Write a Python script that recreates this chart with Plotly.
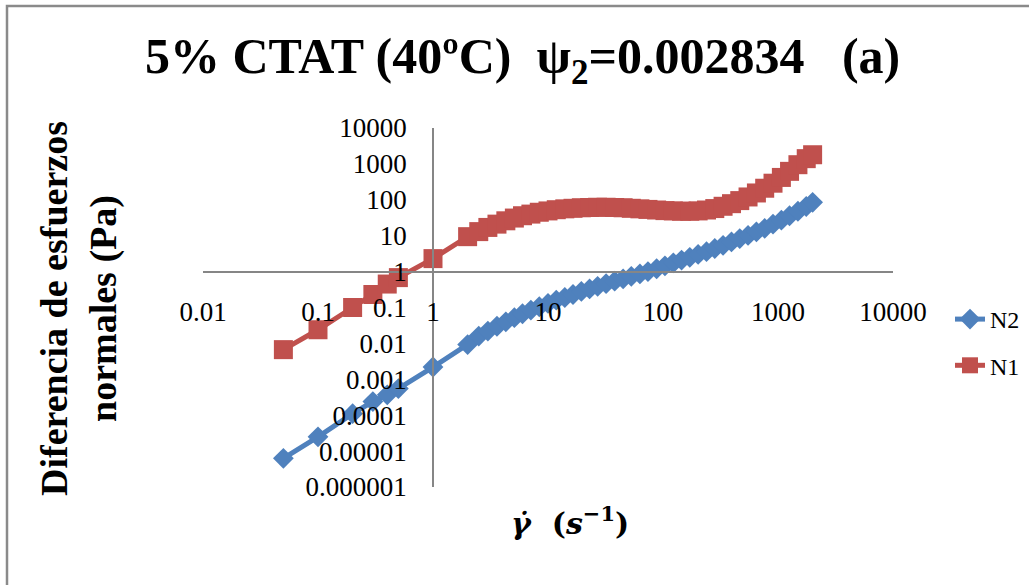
import plotly.graph_objects as go

# ---- data ----
shear_rate = [0.05, 0.1, 0.2, 0.3, 0.4, 0.5, 1, 2, 2.5, 3, 3.6, 4.3, 5.1, 6, 7.1, 8.4,
              10, 11.8, 14, 16.5, 19.5, 23, 27, 32, 38, 45, 53, 63, 74, 88, 104, 123,
              145, 171, 202, 239, 282, 333, 394, 465, 549, 649, 766, 905, 1070, 1260,
              1490, 1760, 2000]

n2 = [6.3e-6, 2.5e-5, 1.1e-4, 2.4e-4, 3.7e-4, 5.5e-4, 2.2e-3, 0.0093, 0.016, 0.022,
      0.03, 0.04, 0.052, 0.067, 0.085, 0.105, 0.13, 0.16, 0.19, 0.23, 0.28, 0.33,
      0.39, 0.46, 0.54, 0.63, 0.74, 0.86, 1.0, 1.2, 1.45, 1.75, 2.1, 2.5, 3.0, 3.6,
      4.4, 5.4, 6.7, 8.3, 10.2, 12.8, 16, 21, 27, 36, 48, 65, 85]

n1 = [0.0067, 0.024, 0.1, 0.23, 0.45, 0.68, 2.3, 9.4, 13, 17, 21, 26, 31, 36, 40, 45,
      49, 53, 56, 58, 60, 61, 62, 62, 61, 60, 58, 56, 54, 52, 50, 49, 48, 48, 49, 52,
      57, 66, 78, 95, 120, 155, 210, 290, 420, 620, 950, 1400, 1800]

x_tickvals = [0.01, 0.1, 1, 10, 100, 1000, 10000]
x_ticktext = ["0.01", "0.1", "1", "10", "100", "1000", "10000"]
y_tickvals = [1e-6, 1e-5, 1e-4, 1e-3, 1e-2, 1e-1, 1, 10, 100, 1000, 10000]
y_ticktext = ["0.000001", "0.00001", "0.0001", "0.001", "0.01", "0.1", "1", "10",
              "100", "1000", "10000"]

BLUE = "#4F81BD"
RED = "#C0504D"
AXIS = "#868686"
FONT = "Liberation Serif"

fig = go.Figure()
fig.add_trace(go.Scatter(x=shear_rate, y=n2, name="N2", mode="lines+markers",
                         line=dict(color=BLUE, width=5),
                         marker=dict(symbol="diamond", size=16, color=BLUE),
                         legendgroup="a"))
fig.add_trace(go.Scatter(x=shear_rate, y=n1, name="N1", mode="lines+markers",
                         line=dict(color=RED, width=5),
                         marker=dict(symbol="square", size=19, color=RED),
                         legendgroup="b"))

W, H = 1029, 585
L, R, T, B = 203, 136, 128, 98
pw, ph = W - L - R, H - T - B

def px_x(p):
    return (p - L) / pw

def px_y(p):
    return (H - B - p) / ph

fig.update_layout(
    width=W, height=H,
    margin=dict(l=L, r=R, t=T, b=B, autoexpand=False),
    paper_bgcolor="white", plot_bgcolor="white",
    font=dict(family=FONT, color="black"),
    showlegend=True,
    legend=dict(x=px_x(950), y=px_y(297), xanchor="left", yanchor="top",
                font=dict(family=FONT, size=24, color="black"),
                tracegroupgap=12, bgcolor="rgba(0,0,0,0)"),
    xaxis=dict(type="log", range=[-2, 4], domain=[0, 1], anchor="free", position=0.6,
               showgrid=False, zeroline=False, showline=True, linecolor=AXIS, linewidth=1.5,
               ticks="", tickvals=x_tickvals, ticktext=x_ticktext,
               tickfont=dict(family=FONT, size=27, color="black"),
               ticklabelstandoff=16),
    yaxis=dict(type="log", range=[-6, 4], domain=[0, 1], anchor="free", position=1/3,
               showgrid=False, zeroline=False, showline=True, linecolor=AXIS, linewidth=1.5,
               ticks="", tickvals=y_tickvals, ticktext=y_ticktext,
               tickfont=dict(family=FONT, size=27, color="black"),
               ticklabelstandoff=20),
)

# chart border (Excel chart area)
fig.add_shape(type="rect", xref="paper", yref="paper",
              x0=px_x(7), y0=px_y(620), x1=px_x(1060), y1=px_y(6),
              line=dict(color="#8A8A8A", width=2.5), fillcolor="rgba(0,0,0,0)", layer="below")

# title
fig.add_annotation(xref="paper", yref="paper", x=px_x(522), y=px_y(60),
                   xanchor="center", yanchor="middle", showarrow=False,
                   text="<b>5% CTAT (40ºC)\u00a0\u00a0ψ<sub>2</sub>=0.002834\u00a0\u00a0\u00a0(a)</b>",
                   font=dict(family=FONT, size=50, color="black"))

# y axis title
fig.add_annotation(xref="paper", yref="paper", x=px_x(79), y=px_y(309),
                   xanchor="center", yanchor="middle", showarrow=False, textangle=-90,
                   text="<b>Diferencia de esfuerzos<br>normales (Pa)</b>",
                   font=dict(family=FONT, size=38, color="black"))

# x axis title
fig.add_annotation(xref="paper", yref="paper", x=px_x(570), y=px_y(521),
                   xanchor="center", yanchor="middle", showarrow=False,
                   text="<b><i>\u03b3\u0307</i>\u00a0\u00a0(<i>s</i><sup>\u22121</sup>)</b>",
                   font=dict(family="DejaVu Serif", size=30, color="black"))

fig.write_html("out.html")
